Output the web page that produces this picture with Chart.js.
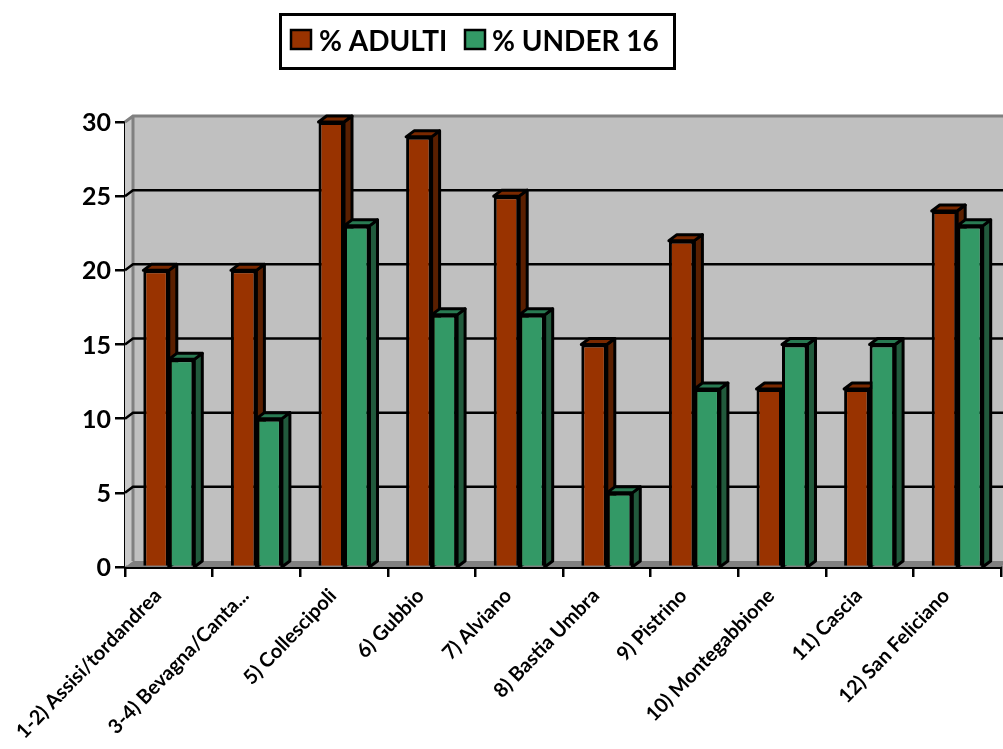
<!DOCTYPE html>
<html>
<head>
<meta charset="utf-8">
<title>% Adulti / % Under 16</title>
<script src="https://cdn.jsdelivr.net/npm/chart.js@4/dist/chart.umd.min.js"></script>
<style>
    html, body { margin: 0; padding: 0; background: #fff; overflow: hidden; }
    #grafico { display: block; }
</style>
</head>
<body>
<canvas id="grafico" width="1003" height="749"></canvas>
<script>
const categorie = ['1-2) Assisi/tordandrea', '3-4) Bevagna/Canta...', '5) Collescipoli', '6) Gubbio', '7) Alviano',
    '8) Bastia Umbra', '9) Pistrino', '10) Montegabbione', '11) Cascia', '12) San Feliciano'];
const adulti = [20, 20, 30, 29, 25, 15, 22, 12, 12, 24];
const under16 = [14, 10, 23, 17, 17, 5, 12, 15, 15, 23];
const nomiSerie = ['% ADULTI', '% UNDER 16'];
const coloriFronte = ['#993300', '#339966'];
const coloriLato = ['#5a1f00', '#215a3c'];
const coloriCima = ['#7a2900', '#297a52'];

const FONT = 'Lato, Carlito, "Open Sans", sans-serif';
// profondita finta del grafico 3D
const DX = 8;
const DY = 6;

function poligono(ctx, punti, fill, stroke, lw) {
    ctx.beginPath();
    punti.forEach((p, i) => i ? ctx.lineTo(p[0], p[1]) : ctx.moveTo(p[0], p[1]));
    ctx.closePath();
    ctx.fillStyle = fill;
    ctx.fill();
    if (stroke) {
        ctx.strokeStyle = stroke;
        ctx.lineWidth = lw;
        ctx.lineJoin = 'round';
        ctx.stroke();
    }
}

// pareti, pavimento e griglia
const pareti = {
    id: 'pareti',
    beforeDatasetsDraw(chart) {
        const { ctx, chartArea: a, scales: { y } } = chart;
        const zero = y.getPixelForValue(0);
        ctx.save();
        poligono(ctx, [[a.left + DX, a.top - DY], [a.right + DX, a.top - DY], [a.right + DX, zero - DY], [a.left + DX, zero - DY]], '#c0c0c0');
        poligono(ctx, [[a.left, a.top], [a.left + DX, a.top - DY], [a.left + DX, zero - DY], [a.left, zero]], '#c8c8c8');
        poligono(ctx, [[a.left, zero], [a.left + DX, zero - DY], [a.right + DX, zero - DY], [a.right, zero]], '#808080');

        ctx.strokeStyle = '#808080';
        ctx.lineWidth = 3;
        ctx.beginPath();
        ctx.moveTo(a.left, a.top);
        ctx.lineTo(a.left + DX, a.top - DY);
        ctx.lineTo(a.right + DX, a.top - DY);
        ctx.moveTo(a.left + DX, a.top - DY);
        ctx.lineTo(a.left + DX, zero - DY);
        ctx.stroke();

        ctx.strokeStyle = '#000';
        ctx.lineWidth = 2.5;
        y.ticks.forEach(t => {
            if (t.value === 0 || t.value === 30) return;
            const py = y.getPixelForValue(t.value);
            ctx.beginPath();
            ctx.moveTo(a.left, py);
            ctx.lineTo(a.left + DX, py - DY);
            ctx.lineTo(a.right + DX, py - DY);
            ctx.stroke();
        });

        // lato e cima delle barre, prima le rosse poi le verdi
        [0, 1].forEach(d => {
            chart.getDatasetMeta(d).data.forEach(bar => {
                const r = bar.x + bar.width / 2;
                const l = bar.x - bar.width / 2;
                poligono(ctx, [[r, bar.y], [r + DX, bar.y - DY], [r + DX, zero - DY], [r, zero]], coloriLato[d], '#000', 3);
                poligono(ctx, [[l, bar.y], [l + DX, bar.y - DY], [r + DX, bar.y - DY], [r, bar.y]], coloriCima[d], '#000', 3);
            });
        });
        ctx.restore();
    }
};

// legenda con il riquadro, spostata a sinistra come nell'originale
const legenda = {
    id: 'legenda',
    afterDraw(chart) {
        const { ctx } = chart;
        ctx.save();
        ctx.strokeStyle = '#000';
        ctx.lineWidth = 3;
        ctx.strokeRect(280.5, 14.5, 394, 54);

        ctx.font = 'bold 28px ' + FONT;
        ctx.textBaseline = 'middle';
        ctx.textAlign = 'left';
        [[291, 319], [465, 492]].forEach((pos, i) => {
            ctx.fillStyle = coloriFronte[i];
            ctx.lineWidth = 2.5;
            ctx.fillRect(pos[0], 30, 20, 19);
            ctx.strokeRect(pos[0], 30, 20, 19);
            ctx.fillStyle = '#000';
            ctx.fillText(nomiSerie[i], pos[1], 42);
        });
        ctx.restore();
    }
};

new Chart(document.getElementById('grafico'), {
    type: 'bar',
    data: {
        labels: categorie,
        datasets: [
            { label: nomiSerie[0], data: adulti, backgroundColor: coloriFronte[0], borderColor: '#000', borderWidth: 3 },
            { label: nomiSerie[1], data: under16, backgroundColor: coloriFronte[1], borderColor: '#000', borderWidth: 3 }
        ]
    },
    options: {
        responsive: false,
        animation: false,
        layout: { padding: { top: 122, right: 2, left: 0, bottom: 0 } },
        datasets: { bar: { categoryPercentage: 0.582, barPercentage: 1 } },
        plugins: {
            legend: { display: false },
            tooltip: { enabled: false }
        },
        scales: {
            x: {
                afterFit(scale) { scale.height = 182; },
                border: { color: '#000', width: 3 },
                grid: { drawOnChartArea: false, color: '#000', lineWidth: 2.5, tickLength: 10 },
                ticks: {
                    color: '#000',
                    font: { family: FONT, size: 20, weight: 'bold' },
                    autoSkip: false,
                    minRotation: 46,
                    maxRotation: 46,
                    labelOffset: -11,
                    padding: 7
                }
            },
            y: {
                min: 0,
                max: 30,
                afterFit(scale) { scale.width = 125; },
                border: { color: '#000', width: 3 },
                grid: { drawOnChartArea: false, color: '#000', lineWidth: 2.5, tickLength: 10 },
                ticks: {
                    stepSize: 5,
                    color: '#000',
                    font: { family: FONT, size: 25, weight: 'bold' },
                    padding: 4,
                    labelOffset: 1
                }
            }
        }
    },
    plugins: [pareti, legenda]
});
</script>
</body>
</html>
